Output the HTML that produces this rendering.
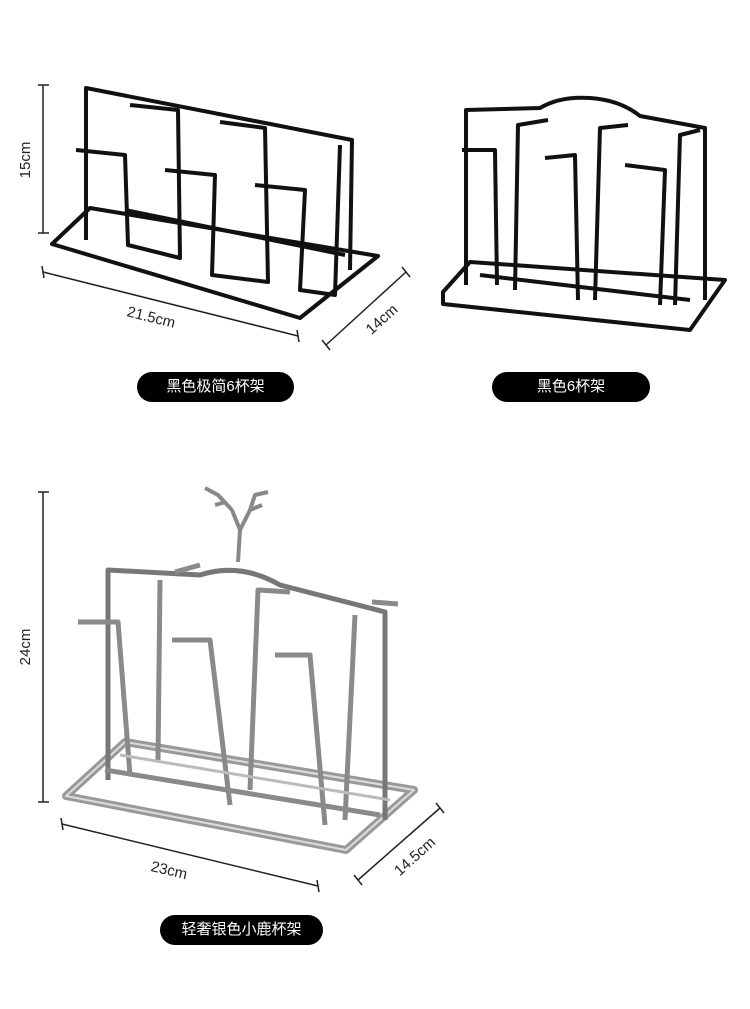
<!DOCTYPE html>
<html><head><meta charset="utf-8"><style>
html,body{margin:0;padding:0;background:#fff;}
body{width:750px;height:1009px;overflow:hidden;position:relative;font-family:"Liberation Sans","Noto Sans CJK SC",sans-serif;}
.pill{position:absolute;background:#000;color:#fff;border-radius:15px;height:30px;line-height:30px;text-align:center;font-size:15px;}
</style></head><body>
<svg width="750" height="1009" style="position:absolute;left:0;top:0" font-family="Liberation Sans, sans-serif">
<!-- dimension lines -->
<g stroke="#222" stroke-width="1.5" fill="none">
<line x1="43" y1="85" x2="43" y2="233"/><line x1="38" y1="85" x2="49" y2="85"/><line x1="38" y1="233" x2="49" y2="233"/>
<line x1="43" y1="272" x2="298" y2="336"/><line x1="42" y1="266" x2="44" y2="278"/><line x1="297" y1="330" x2="299" y2="342"/>
<line x1="326" y1="345" x2="406" y2="272"/><line x1="322" y1="340" x2="330" y2="350"/><line x1="402" y1="267" x2="410" y2="277"/>
<line x1="43" y1="492" x2="43" y2="802"/><line x1="38" y1="492" x2="49" y2="492"/><line x1="38" y1="802" x2="49" y2="802"/>
<line x1="62" y1="824" x2="318" y2="886"/><line x1="61" y1="818" x2="63" y2="830"/><line x1="317" y1="880" x2="319" y2="892"/>
<line x1="358" y1="880" x2="440" y2="808"/><line x1="354" y1="875" x2="362" y2="885"/><line x1="436" y1="803" x2="444" y2="813"/>
</g>
<g font-size="15" fill="#222">
<text transform="translate(30,160) rotate(-90)" text-anchor="middle">15cm</text>
<text transform="translate(150,322) rotate(14)" text-anchor="middle">21.5cm</text>
<text transform="translate(385,323) rotate(-42)" text-anchor="middle">14cm</text>
<text transform="translate(30,647) rotate(-90)" text-anchor="middle">24cm</text>
<text transform="translate(168,875) rotate(13)" text-anchor="middle">23cm</text>
<text transform="translate(418,860) rotate(-42)" text-anchor="middle">14.5cm</text>
</g>
<!-- rack 1 -->
<g stroke="#111" stroke-width="4" fill="none" stroke-linejoin="round">
<polygon points="52,244 90,208 378,256 300,318"/>
<polyline points="86,240 86,88 352,140 350,270"/>
<polyline points="76,150 125,155 128,245 180,258 178,110 130,105"/>
<polyline points="165,170 215,175 212,275 268,282 265,128 220,122"/>
<polyline points="255,185 305,190 300,290 335,295 340,145"/>
<polyline points="125,210 345,255"/>
</g>
<!-- rack 2 -->
<g stroke="#111" stroke-width="4" fill="none" stroke-linejoin="round">
<polygon points="443,292 470,262 725,280 690,330 443,304"/>
<path d="M466,285 L466,110 L540,108 Q560,96 590,98 Q620,100 640,116 L705,128 L705,300"/>
<polyline points="462,150 495,150 497,285"/>
<polyline points="515,290 518,125 548,120"/>
<polyline points="545,158 575,155 578,300"/>
<polyline points="595,300 600,128 628,125"/>
<polyline points="625,165 665,170 660,305"/>
<polyline points="675,305 680,135 700,130"/>
<polyline points="480,275 690,300"/>
</g>
<!-- rack 3 -->
<g stroke="#8a8a8a" stroke-width="5" fill="none" stroke-linejoin="round">
<polygon points="66,796 125,742 414,790 346,850" stroke="#999" stroke-width="8"/>
<polygon points="66,796 125,742 414,790 346,850" stroke="#ddd" stroke-width="2"/>
<path d="M108,780 L108,570 L200,575 Q240,562 280,585 L385,612 L385,820" stroke="#777"/>
<polyline points="78,622 118,622 130,775"/>
<polyline points="158,760 160,580"/>
<polyline points="172,640 210,640 230,805"/>
<polyline points="250,790 258,590 290,592"/>
<polyline points="275,655 310,655 325,825"/>
<polyline points="345,820 355,615"/>
<polyline points="105,770 380,815"/>
<polyline points="120,755 390,800" stroke="#bbb" stroke-width="3"/>
<line x1="175" y1="572" x2="200" y2="565"/><line x1="372" y1="602" x2="398" y2="604"/>
<path d="M238,562 L240,530 L232,510 M240,530 L250,510 L255,495 L268,492 M232,510 L218,495 L205,488 M250,510 L262,505 M226,502 L215,505" stroke="#888" stroke-width="4"/>
</g>
</svg>
<div class="pill" style="left:137px;top:372px;width:157px;">黑色极简6杯架</div>
<div class="pill" style="left:492px;top:372px;width:158px;">黑色6杯架</div>
<div class="pill" style="left:160px;top:915px;width:163px;">轻奢银色小鹿杯架</div>
</body></html>
